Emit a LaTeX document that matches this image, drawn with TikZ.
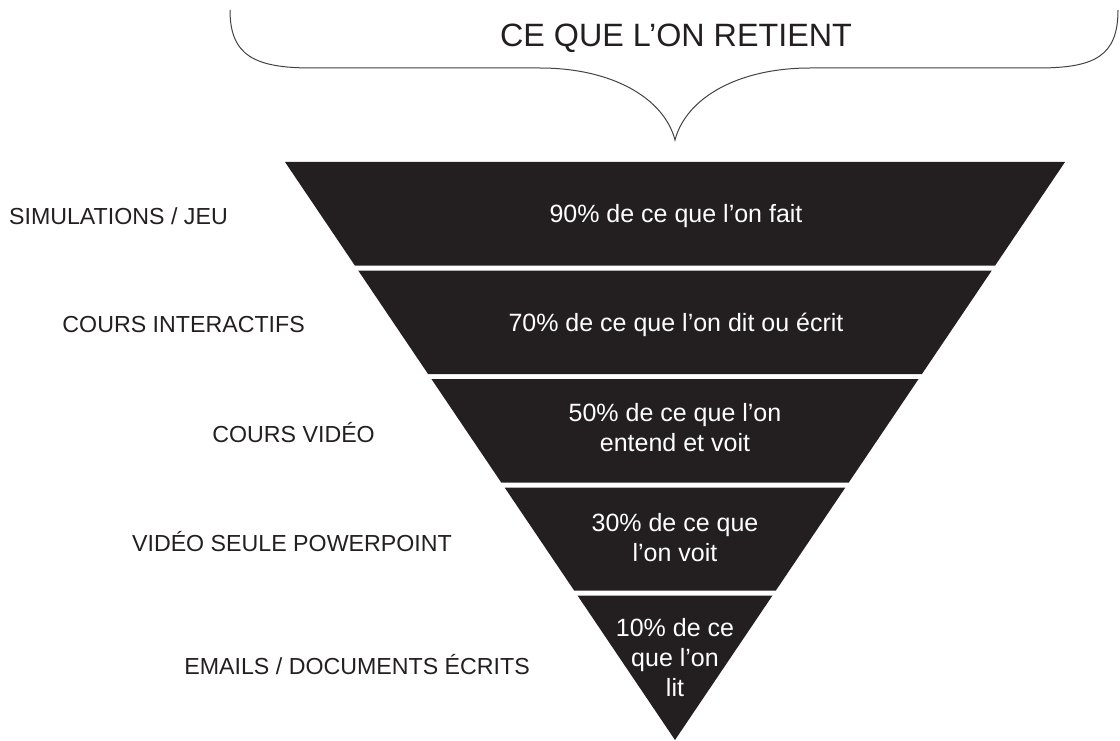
\documentclass[tikz,border=0pt]{standalone}
\usepackage{fontspec}
\setmainfont{Liberation Sans}
\definecolor{ink}{HTML}{231F20}
\begin{document}
\begin{tikzpicture}[x=1pt,y=-1pt,
  band/.style={fill=ink,draw=none},
  inner/.style={text=white,font=\fontsize{25}{30}\selectfont,align=center,inner sep=0pt},
  side/.style={text=ink,font=\fontsize{23.2}{30}\selectfont,anchor=east,inner sep=0pt},
  title/.style={text=ink,font=\fontsize{32.3}{36}\selectfont,inner sep=0pt},
  brace/.style={draw=ink!85,line width=1pt}]
  \useasboundingbox (0,0) rectangle (1120,741);

  % curly brace over the funnel
  \draw[brace] (230,10) .. controls (230,56) and (255,68) .. (312,68)
     -- (540,68) .. controls (612,68) and (664,98) .. (675,140)
     .. controls (686,98) and (738,68) .. (810,68)
     -- (1038,68) .. controls (1095,68) and (1118,56) .. (1118,10);
  \node[title] (head) at (676,38) {CE QUE L’ON RETIENT};

  % funnel bands
  \fill[band] (285,162) -- (1065,162) -- (995.16,265.5) -- (354.84,265.5) -- cycle;
  \fill[band] (358.21,270.5) -- (991.79,270.5) -- (921.96,374) -- (428.04,374) -- cycle;
  \fill[band] (431.42,379) -- (918.58,379) -- (848.75,482.5) -- (501.25,482.5) -- cycle;
  \fill[band] (504.63,487.5) -- (845.37,487.5) -- (775.87,590.5) -- (574.13,590.5) -- cycle;
  \fill[band] (577.5,595.5) -- (772.5,595.5) -- (675,740) -- cycle;

  % band texts
  \node[inner] (b1) at (676,216) {90\% de ce que l’on fait};
  \node[inner] (b2) at (676,325) {70\% de ce que l’on dit ou écrit};
  \node[inner] (b3) at (675,428) {50\% de ce que l’on\\entend et voit};
  \node[inner] (b4) at (675,538) {30\% de ce que\\l’on voit};
  \node[inner] (b5) at (675,658) {10\% de ce\\que l’on\\lit};

  % methods
  \node[side] (m1) at (228,216) {SIMULATIONS / JEU};
  \node[side] (m2) at (305,325) {COURS INTERACTIFS};
  \node[side] (m3) at (375,433) {COURS VIDÉO};
  \node[side] (m4) at (452,542) {VIDÉO SEULE POWERPOINT};
  \node[side] (m5) at (530,665) {EMAILS / DOCUMENTS ÉCRITS};
\end{tikzpicture}
\end{document}
